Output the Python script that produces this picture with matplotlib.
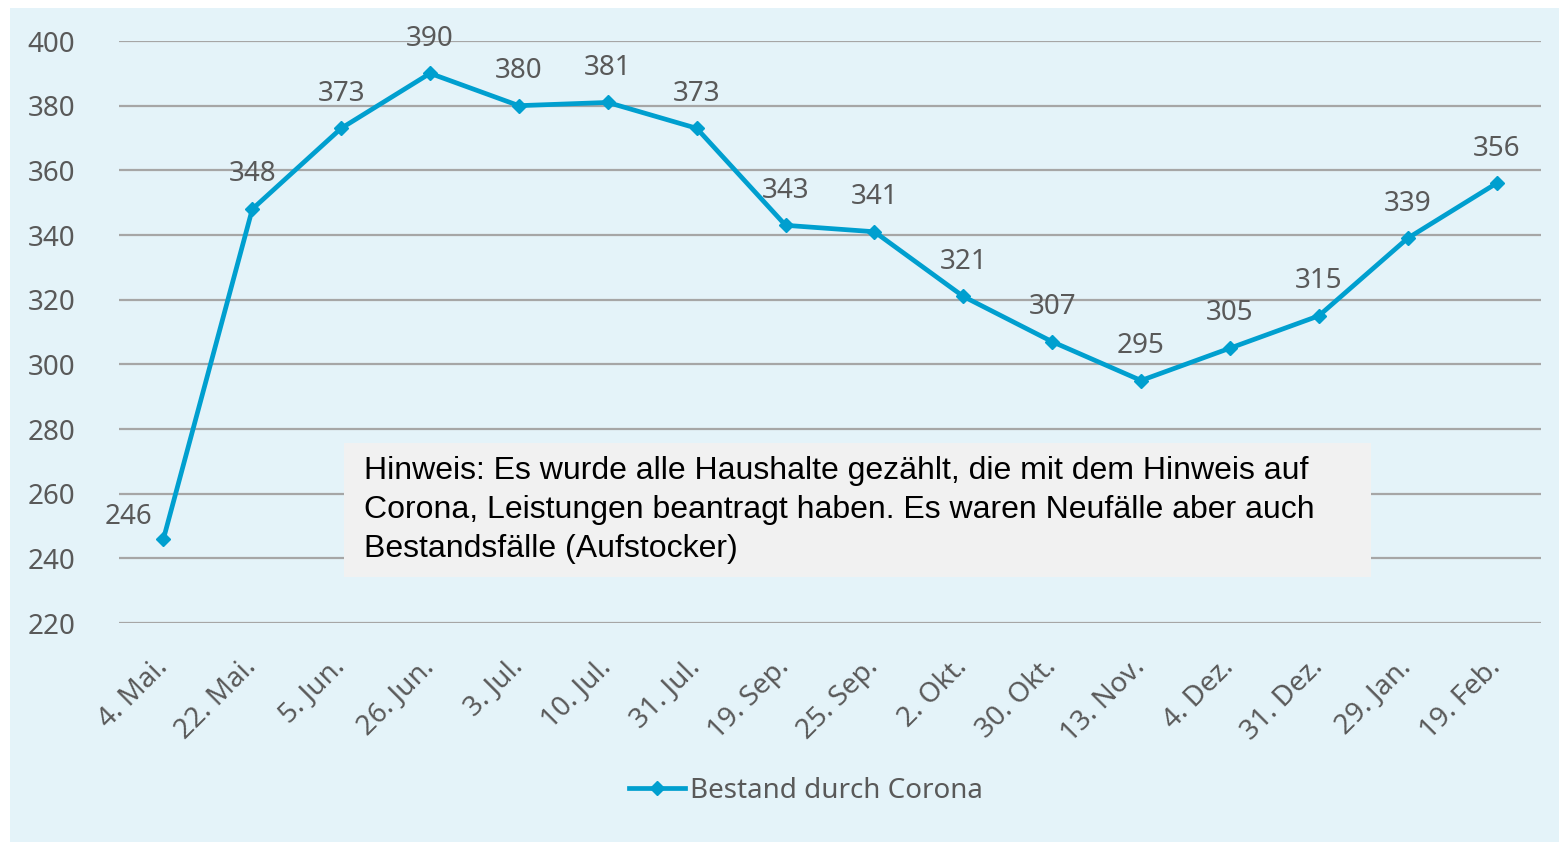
import matplotlib.pyplot as plt
from matplotlib.patches import Rectangle

# Daten
datum = ["4. Mai.", "22. Mai.", "5. Jun.", "26. Jun.", "3. Jul.", "10. Jul.",
         "31. Jul.", "19. Sep.", "25. Sep.", "2. Okt.", "30. Okt.", "13. Nov.",
         "4. Dez.", "31. Dez.", "29. Jan.", "19. Feb."]
bestand = [246, 348, 373, 390, 380, 381, 373, 343, 341, 321, 307, 295,
           305, 315, 339, 356]
y_ticks = [220, 240, 260, 280, 300, 320, 340, 360, 380, 400]

hinweis = ("Hinweis: Es wurde alle Haushalte gezählt, die mit dem Hinweis auf\n"
           "Corona, Leistungen beantragt haben. Es waren Neufälle aber auch\n"
           "Bestandsfälle (Aufstocker)")

blau = "#009FCF"
grau_text = "#595959"
hintergrund = "#E4F3F9"

plt.rcParams["font.family"] = ["Noto Sans", "DejaVu Sans"]

fig = plt.figure(figsize=(15.59, 8.42), dpi=100)
fig.patch.set_facecolor("white")
fig.patches.append(Rectangle((10 / 1559, 0), 1 - 10 / 1559, 1 - 8 / 842,
                             transform=fig.transFigure, facecolor=hintergrund,
                             edgecolor="none", zorder=-5))

ax = fig.add_axes([119 / 1559, 1 - 623 / 842, (1541 - 119) / 1559, (623 - 41) / 842])
ax.set_facecolor("none")

x = list(range(len(datum)))
ax.plot(x, bestand, color=blau, linewidth=3.4, marker="D", markersize=7.5,
        label="Bestand durch Corona", zorder=3)

for i, v in enumerate(bestand):
    if i == 0:
        off = (-25, 16)
    else:
        off = (0, 25)
    ax.annotate(str(v), (i, v), xytext=off, textcoords="offset points",
                ha="center", va="center", fontsize=20, color=grau_text)

ax.set_xlim(-0.5, len(datum) - 0.5)
ax.set_ylim(220, 400)
ax.set_yticks(y_ticks)
ax.yaxis.grid(True, color="#A6A6A6", linewidth=1.6)
ax.set_axisbelow(True)
for s in ax.spines.values():
    s.set_visible(False)

ax.set_xticks(x)
ax.set_xticklabels(datum, rotation=45, ha="right", va="center",
                   rotation_mode="anchor")
ax.tick_params(axis="x", length=0, pad=29, labelsize=20, labelcolor=grau_text)
ax.tick_params(axis="y", length=0, pad=66, labelsize=20, labelcolor=grau_text)
for t in ax.get_yticklabels():
    t.set_horizontalalignment("left")

# Hinweis-Box
fig.patches.append(Rectangle((344 / 1559, 1 - 577 / 842), (1371 - 344) / 1559,
                             (577 - 443) / 842, transform=fig.transFigure,
                             facecolor="#F1F1F1", edgecolor="none", zorder=1))
fig.text(364 / 1559, 1 - 510 / 842, hinweis, family="Liberation Sans",
         fontsize=23, color="black", va="center", ha="left", linespacing=1.38,
         zorder=5)

fig.legend(loc="center", bbox_to_anchor=(806 / 1559, 1 - 791 / 842),
           frameon=False, fontsize=20, handlelength=2.0, handletextpad=0.2,
           labelcolor=grau_text)

fig.savefig("out.png", dpi=100)
